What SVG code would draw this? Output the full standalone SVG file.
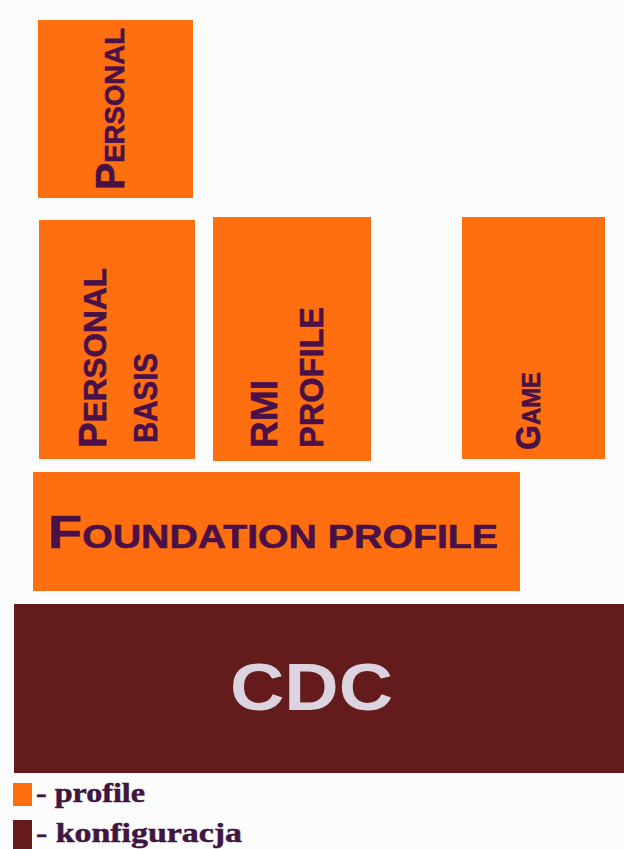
<svg xmlns="http://www.w3.org/2000/svg" width="624" height="849" viewBox="0 0 624 849">
<style>
.bg{fill:#fdfcfc}
.prof{fill:#ff6f10}
.conf{fill:#641b1c}
.lbl{font-family:"Liberation Sans",Arial,sans-serif;font-weight:bold;fill:#4a1048;stroke:#4a1048;stroke-width:0.6}
.cdc{font-family:"Liberation Sans",Arial,sans-serif;font-weight:bold;fill:#dcd3e0}
.leg{font-family:"Liberation Serif","Times New Roman",serif;font-weight:bold;fill:#3e1640;stroke:#3e1640;stroke-width:0.5;font-size:27px}
</style>
<rect class="bg" x="0" y="0" width="624" height="849"/>
<g id="connectors"/>
<g id="personal">
<rect class="prof" x="38" y="20" width="155" height="178"/>
<text class="lbl" transform="translate(124,190) rotate(-90)" textLength="162" lengthAdjust="spacingAndGlyphs"><tspan font-size="40">P</tspan><tspan font-size="27">ERSONAL</tspan></text>
</g>
<g id="personal-basis">
<rect class="prof" x="39" y="220" width="156" height="239"/>
<text class="lbl" transform="translate(106,448) rotate(-90)" textLength="180" lengthAdjust="spacingAndGlyphs"><tspan font-size="39">P</tspan><tspan font-size="32">ERSONAL</tspan></text>
<text class="lbl" font-size="33" transform="translate(157,443) rotate(-90)" textLength="90" lengthAdjust="spacingAndGlyphs">BASIS</text>
</g>
<g id="rmi-profile">
<rect class="prof" x="213" y="217" width="158" height="244"/>
<text class="lbl" font-size="37" transform="translate(277,448) rotate(-90)" textLength="68" lengthAdjust="spacingAndGlyphs">RMI</text>
<text class="lbl" font-size="34" transform="translate(323,448) rotate(-90)" textLength="141" lengthAdjust="spacingAndGlyphs">PROFILE</text>
</g>
<g id="game">
<rect class="prof" x="462" y="217" width="143" height="242"/>
<text class="lbl" transform="translate(540,450) rotate(-90)" textLength="78" lengthAdjust="spacingAndGlyphs"><tspan font-size="35">G</tspan><tspan font-size="26">AME</tspan></text>
</g>
<g id="foundation-profile">
<rect class="prof" x="33" y="472" width="487" height="119"/>
<text class="lbl" x="48" y="548" textLength="450" lengthAdjust="spacingAndGlyphs"><tspan font-size="47">F</tspan><tspan font-size="33">OUNDATION PROFILE</tspan></text>
</g>
<g id="cdc">
<rect class="conf" x="14" y="604" width="610" height="169"/>
<text class="cdc" x="230" y="710" font-size="67" textLength="163" lengthAdjust="spacingAndGlyphs">CDC</text>
</g>
<g id="legend">
<rect class="prof" x="13" y="783" width="19" height="23"/>
<text class="leg" x="36" y="802" textLength="109" lengthAdjust="spacingAndGlyphs">- profile</text>
<rect class="conf" x="13" y="820" width="19" height="29"/>
<text class="leg" x="36" y="842" textLength="206" lengthAdjust="spacingAndGlyphs">- konfiguracja</text>
</g>
</svg>
